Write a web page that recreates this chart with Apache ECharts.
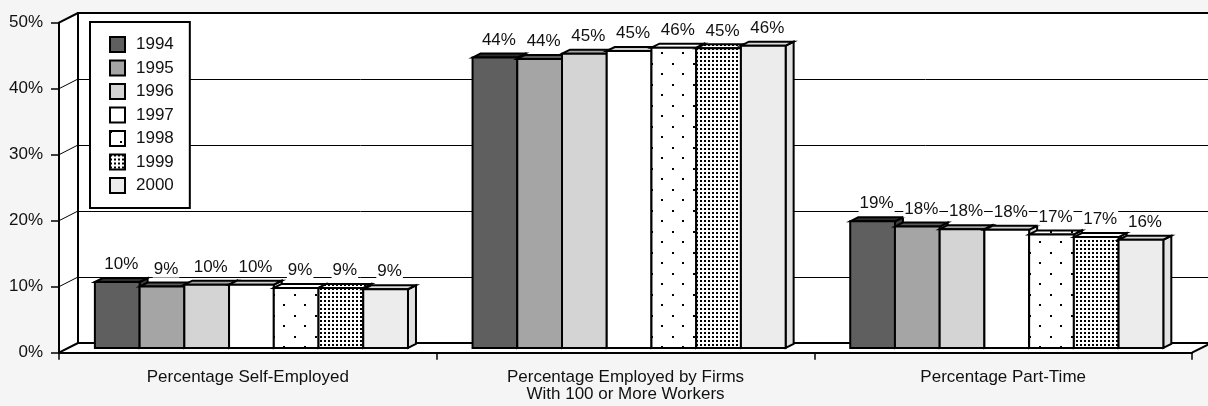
<!DOCTYPE html>
<html><head><meta charset="utf-8">
<script src="https://cdn.jsdelivr.net/npm/echarts@6/dist/echarts.min.js"></script>
<style>html,body{margin:0;padding:0;background:#f5f5f5}#c{width:1208px;height:406px}</style>
</head><body><div id="c"></div>
<script>
// ---- data ----
const categories = ['Percentage Self-Employed', 'Percentage Employed by Firms\nWith 100 or More Workers', 'Percentage Part-Time'];
const years = ['1994', '1995', '1996', '1997', '1998', '1999', '2000'];
const v1994 = [10.0, 44.0, 19.2];
const v1995 = [9.3, 43.8, 18.4];
const v1996 = [9.6, 44.6, 18.0];
const v1997 = [9.6, 45.0, 17.9];
const v1998 = [9.1, 45.5, 17.2];
const v1999 = [9.1, 45.4, 16.8];
const v2000 = [8.9, 45.8, 16.4];
const yTicks = [0, 10, 20, 30, 40, 50];
const seriesValues = [v1994, v1995, v1996, v1997, v1998, v1999, v2000];

// ---- styles ----
const FONT = "'Liberation Sans', Arial, sans-serif";
const FS = 17;
function pattern(w, h, dots, s) {
  const c = document.createElement('canvas'); c.width = w; c.height = h;
  const g = c.getContext('2d'); g.fillStyle = '#fff'; g.fillRect(0, 0, w, h);
  g.fillStyle = '#000'; dots.forEach(d => g.fillRect(d[0], d[1], s, s));
  return { image: c, repeat: 'repeat' };
}
const sparse = pattern(21, 21, [[0, 0], [10, 10]], 2);
const dense = pattern(4, 4, [[0, 0]], 2);
const fronts = ['#5f5f5f', '#a5a5a5', '#d4d4d4', '#ffffff', sparse, dense, '#ececec'];
const tops = ['#2e2e2e', '#5a5a5a', '#a3a3a3', '#cfcfcf', sparse, dense, '#dcdcdc'];
const sides = ['#3a3a3a', '#6a6a6a', '#b0b0b0', '#d8d8d8', sparse, dense, '#e2e2e2'];

// layout (pixels)
const W = 1208, H = 406;
const FRONT = { left: 59, right: 1192, top: 22.7, bottom: 352.7 };
const DEPTH = { dx: 19, dy: -9.7 };
const BARPLANE = { left: 62.6, right: 1195.6, top: 18, bottom: 348 };
const BAR_DEPTH = { dx: 8, dy: -4 };
const CLUSTER = 0.829;

const chart = echarts.init(document.getElementById('c'), null, { renderer: 'canvas' });

function renderBar(params, api) {
  const si = params.seriesIndex;
  const cat = api.value(0), val = api.value(1);
  const base = api.coord([cat, 0]);
  const top = api.coord([cat, val]);
  const band = api.size([1, 0])[0];
  const cw = band * CLUSTER, w = cw / years.length;
  const x = base[0] - cw / 2 + si * w;
  const yT = top[1], yB = base[1];
  const dx = BAR_DEPTH.dx, dy = BAR_DEPTH.dy;
  const st = { stroke: '#000', lineWidth: 2, lineJoin: 'miter' };
  return {
    type: 'group',
    children: [
      { type: 'polygon', shape: { points: [[x + w, yT], [x + w + dx, yT + dy], [x + w + dx, yB + dy], [x + w, yB]] },
        style: Object.assign({ fill: sides[si] }, st) },
      { type: 'polygon', shape: { points: [[x, yT], [x + dx, yT + dy], [x + w + dx, yT + dy], [x + w, yT]] },
        style: Object.assign({ fill: tops[si] }, st) },
      { type: 'rect', shape: { x: x, y: yT, width: w, height: yB - yT },
        style: Object.assign({ fill: fronts[si] }, st) },
      { type: 'text', z2: 10, style: { text: Math.round(val) + '%', x: x + w / 2 + dx / 2, y: yT - 9,
          align: 'center', verticalAlign: 'bottom', fontSize: FS, fontFamily: FONT, fill: '#111',
          backgroundColor: '#fff', padding: [0, 1] } }
    ]
  };
}

const option = {
  backgroundColor: '#f5f5f5',
  animation: false,
  legend: {
    orient: 'vertical', left: 90, top: 22,
    padding: [14, 16, 14, 19],
    backgroundColor: '#fff', borderColor: '#000', borderWidth: 2,
    itemWidth: 15, itemHeight: 15, itemGap: 6.5,
    icon: 'rect',
    itemStyle: { borderColor: '#000', borderWidth: 2 },
    textStyle: { fontFamily: FONT, fontSize: FS, color: '#111', padding: [0, 0, 0, 6] },
    data: years
  },
  grid: [
    { left: FRONT.left + DEPTH.dx, right: W - (FRONT.right + DEPTH.dx), top: FRONT.top + DEPTH.dy, bottom: H - (FRONT.bottom + DEPTH.dy) },
    { left: FRONT.left, right: W - FRONT.right, top: FRONT.top, bottom: H - FRONT.bottom },
    { left: BARPLANE.left, right: W - BARPLANE.right, top: BARPLANE.top, bottom: H - BARPLANE.bottom }
  ],
  xAxis: [
    { gridIndex: 0, type: 'category', data: categories, show: false },
    { gridIndex: 1, type: 'category', data: categories, boundaryGap: true,
      axisLine: { lineStyle: { color: '#000', width: 2 } },
      axisTick: { show: true, length: 7, lineStyle: { color: '#000', width: 1.5 } },
      axisLabel: { fontFamily: FONT, fontSize: FS, color: '#111', margin: 16, lineHeight: 17, interval: 0 } },
    { gridIndex: 2, type: 'category', data: categories, show: false }
  ],
  yAxis: [
    { gridIndex: 0, type: 'value', min: 0, max: 50, interval: 10,
      axisLine: { show: false }, axisTick: { show: false }, axisLabel: { show: false },
      splitLine: { show: true, lineStyle: { color: '#000', width: 1 } } },
    { gridIndex: 1, type: 'value', min: 0, max: 50, interval: 10,
      axisLine: { show: true, lineStyle: { color: '#000', width: 2 } },
      axisTick: { show: true, length: 8, lineStyle: { color: '#000', width: 1.5 } },
      axisLabel: { formatter: '{value}%', fontFamily: FONT, fontSize: FS, color: '#111', margin: 16, padding: [0, 0, 4, 0] },
      splitLine: { show: false } },
    { gridIndex: 2, type: 'value', min: 0, max: 50, show: false, splitLine: { show: false } }
  ],
  series: years.map((y, i) => ({
    name: y, type: 'custom', coordinateSystem: 'cartesian2d', xAxisIndex: 2, yAxisIndex: 2,
    itemStyle: { color: fronts[i], borderColor: '#000', borderWidth: 2 },
    renderItem: renderBar, encode: { x: 0, y: 1 },
    data: seriesValues[i].map((v, k) => [k, v]),
    z: 2 + i
  }))
};
chart.setOption(option);

// 3D box decoration, positioned through the axes
const yF = t => chart.convertToPixel({ yAxisIndex: 1 }, t);
const yB = t => chart.convertToPixel({ yAxisIndex: 0 }, t);
const xF0 = FRONT.left, xB0 = FRONT.left + DEPTH.dx;
const xF1 = FRONT.right, xB1 = FRONT.right + DEPTH.dx;
const tMin = yTicks[0], tMax = yTicks[yTicks.length - 1];
const g = [];
g.push({ type: 'polygon', z: -10, silent: true,
  shape: { points: [[xF0, yF(tMin)], [xF0, yF(tMax)], [xB0, yB(tMax)], [W + 10, yB(tMax)], [W + 10, yB(tMin)], [xB1, yB(tMin)], [xF1, yF(tMin)]] },
  style: { fill: '#fff' } });
yTicks.forEach((t, i) => {
  const thick = (i === 0 || i === yTicks.length - 1);
  g.push({ type: 'line', z: 1, silent: true, shape: { x1: xF0, y1: yF(t), x2: xB0, y2: yB(t) },
    style: { stroke: '#000', lineWidth: thick ? 2 : 1 } });
});
g.push({ type: 'polyline', z: 1, silent: true,
  shape: { points: [[xB0, yB(tMin)], [xB0, yB(tMax)], [W + 10, yB(tMax)]] },
  style: { stroke: '#000', lineWidth: 2, fill: null } });
g.push({ type: 'line', z: 1, silent: true, shape: { x1: xB0, y1: yB(tMin), x2: W + 10, y2: yB(tMin) },
  style: { stroke: '#000', lineWidth: 2 } });
g.push({ type: 'line', z: 1, silent: true, shape: { x1: xF1, y1: yF(tMin), x2: xB1, y2: yB(tMin) },
  style: { stroke: '#000', lineWidth: 2 } });
chart.setOption({ graphic: g });
</script>
</body></html>
